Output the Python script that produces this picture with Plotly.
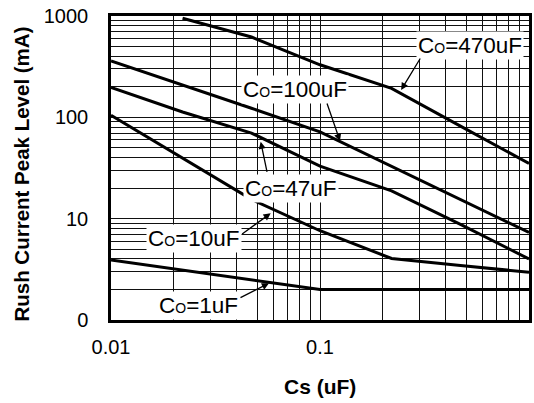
import plotly.graph_objects as go

# ---- data ----
cs_uF = [0.01, 0.022, 0.047, 0.1, 0.22, 0.47, 1]
co470 = [None, 950, 620, 330, 193, 82, 35]
co100 = [360, 210, 123, 72, 33, 15.7, 7.3]
co47 = [197, 113, 70, 33, 18.8, 8.8, 4.0]
co10 = [105, 40, 15.5, 7.6, 4.05, 3.45, 2.96]
co1 = [3.9, 3.1, 2.5, 2.0, 2.0, 2.0, 2.0]

series_names = ["470uF", "100uF", "47uF", "10uF", "1uF"]
series_vals = [co470, co100, co47, co10, co1]

x_major = [0.01, 0.1, 1]
x_major_text = ["0.01", "0.1", "1"]
y_major = [1, 10, 100, 1000]
y_major_text = ["0", "10", "100", "1000"]

W, H = 534, 403
L, R, T, B = 111, 2.3, 16, 83
PW, PH = W - L - R, H - T - B

FONT = "Liberation Sans, Arial, Helvetica, sans-serif"


def grid_vals(lo_dec, hi_dec):
    vals = []
    for d in range(lo_dec, hi_dec):
        for k in range(1, 10):
            vals.append(k * 10 ** d)
    vals.append(10 ** hi_dec)
    return vals


def ticks(all_vals, major, major_text):
    txt = []
    for v in all_vals:
        lab = ""
        for m, t in zip(major, major_text):
            if abs(v - m) / m < 1e-9:
                lab = t
        txt.append(lab)
    return txt


xv = grid_vals(-2, 0)
yv = grid_vals(0, 3)

fig = go.Figure()
for name, vals in zip(series_names, series_vals):
    fig.add_trace(go.Scatter(x=cs_uF, y=vals, mode="lines", name=name,
                             line=dict(color="black", width=3),
                             showlegend=False))


def px2d(px, py):
    # pixel -> log10 data coords
    return (-2 + 2 * (px - L) / PW, 3 * (T + PH - py) / PH)


def lab(text_num, cx, cy):
    x, y = px2d(cx, cy)
    fig.add_annotation(x=x, y=y, xref="x", yref="y", showarrow=False,
                       text="C<span style='font-size:14px'>O</span>=" + text_num,
                       font=dict(family=FONT, size=22.5, color="black"),
                       bgcolor="white", borderpad=1, xanchor="center", yanchor="middle")


def arrow(tx, ty, hx, hy):
    x, y = px2d(hx, hy)
    fig.add_annotation(x=x, y=y, xref="x", yref="y", text="", showarrow=True,
                       ax=tx - hx, ay=ty - hy, arrowhead=2, arrowsize=1.1,
                       arrowwidth=1.3, arrowcolor="black", standoff=0)


lab("470uF", 472, 45)
lab("100uF", 296, 89)
lab("47uF", 292.5, 188)
lab("10uF", 195, 238.3)
lab("1uF", 199, 305)

arrow(423, 57, 403, 90)
arrow(328, 102, 341.5, 141)
arrow(268.3, 173.3, 261.7, 141.7)
arrow(241.7, 235, 271.7, 213.3)
arrow(240, 298.3, 270, 283.3)

fig.add_annotation(xref="paper", yref="paper", x=(20 - L) / PW,
                   y=(T + PH - 174) / PH,
                   text="<b>Rush Current Peak Level (mA)</b>", textangle=-90,
                   showarrow=False, xanchor="center", yanchor="middle",
                   font=dict(family=FONT, size=20.5, color="black"))
fig.add_annotation(xref="paper", yref="paper", x=(321.5 - L) / PW,
                   y=(T + PH - 386.7) / PH,
                   text="<b>Cs (uF)</b>", showarrow=False,
                   xanchor="center", yanchor="middle",
                   font=dict(family=FONT, size=21, color="black"))

fig.update_xaxes(type="log", range=[-2, 0], tickmode="array", tickvals=xv,
                 ticktext=ticks(xv, x_major, x_major_text), ticks="",
                 showgrid=True, gridcolor="#111", gridwidth=1.3,
                 showline=True, linecolor="black", linewidth=2.5, mirror=True,
                 ticklabelstandoff=7,
                 tickfont=dict(family=FONT, size=20, color="black"))
fig.update_yaxes(type="log", range=[0, 3], tickmode="array", tickvals=yv,
                 ticktext=ticks(yv, y_major, y_major_text), ticks="",
                 showgrid=True, gridcolor="#111", gridwidth=1.3,
                 showline=True, linecolor="black", linewidth=2.5, mirror=True,
                 ticklabelstandoff=16,
                 tickfont=dict(family=FONT, size=20, color="black"))

fig.update_layout(width=W, height=H, margin=dict(l=L, r=R, t=T, b=B),
                  plot_bgcolor="white", paper_bgcolor="white")

fig.write_html("out.html", config={"displayModeBar": False},
               post_script="document.body.style.margin='0';document.body.style.overflow='hidden';")
